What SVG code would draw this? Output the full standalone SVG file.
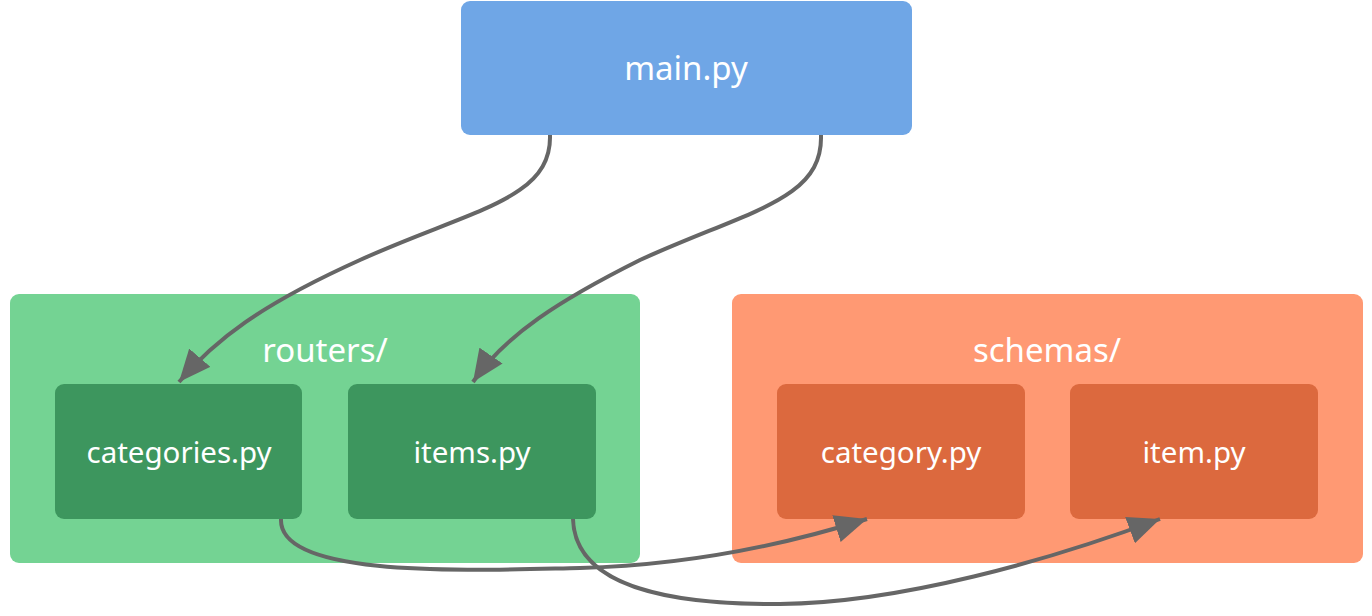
<svg xmlns="http://www.w3.org/2000/svg" width="1372" height="616" viewBox="0 0 1372 616">
<style>
.lbl{font-family:"Noto Sans","Open Sans","DejaVu Sans",sans-serif;fill:#fff;text-anchor:middle;dominant-baseline:central}
.edge{fill:none;stroke:#666;stroke-width:4}
</style>
<defs>
<marker id="arr" markerUnits="userSpaceOnUse" markerWidth="34" markerHeight="28" refX="32" refY="14" orient="auto">
<path d="M0,0 L32,14 L0,28 Z" fill="#666"/>
</marker>
</defs>
<rect width="1372" height="616" fill="#fff"/>
<g id="routers">
<rect x="10" y="294" width="630" height="269" rx="9" fill="#74D393"/>
<text class="lbl" x="325" y="349" font-size="33">routers/</text>
</g>
<g id="schemas">
<rect x="732" y="294" width="631" height="269" rx="9" fill="#FF9973"/>
<text class="lbl" x="1047" y="349" font-size="33">schemas/</text>
</g>
<g id="main">
<rect x="461" y="1" width="451" height="134" rx="9" fill="#6FA6E6"/>
<text class="lbl" x="686" y="67" font-size="33">main.py</text>
</g>
<g id="categories">
<rect x="55" y="384" width="247" height="135" rx="9" fill="#3D965E"/>
<text class="lbl" x="179" y="451" font-size="29.5">categories.py</text>
</g>
<g id="items">
<rect x="348" y="384" width="248" height="135" rx="9" fill="#3D965E"/>
<text class="lbl" x="472" y="451" font-size="29.5">items.py</text>
</g>
<g id="category">
<rect x="777" y="384" width="248" height="135" rx="9" fill="#DC693E"/>
<text class="lbl" x="901" y="451" font-size="29.5">category.py</text>
</g>
<g id="item">
<rect x="1070" y="384" width="248" height="135" rx="9" fill="#DC693E"/>
<text class="lbl" x="1194" y="451" font-size="29.5">item.py</text>
</g>
<g id="connectors">
<path class="edge" marker-end="url(#arr)" d="M550,135 C552,200 470,210 360,260 C260,305 215,340 179,382"/>
<path class="edge" marker-end="url(#arr)" d="M821,135 C823,200 750,210 640,260 C560,300 505,335 473,382"/>
<path class="edge" marker-end="url(#arr)" d="M281,519 C278,580 480,570 580,568 C700,565 800,540 867,519"/>
<path class="edge" marker-end="url(#arr)" d="M573,519 C575,590 680,605 780,604 C900,603 1050,560 1160,519"/>
</g>
</svg>
